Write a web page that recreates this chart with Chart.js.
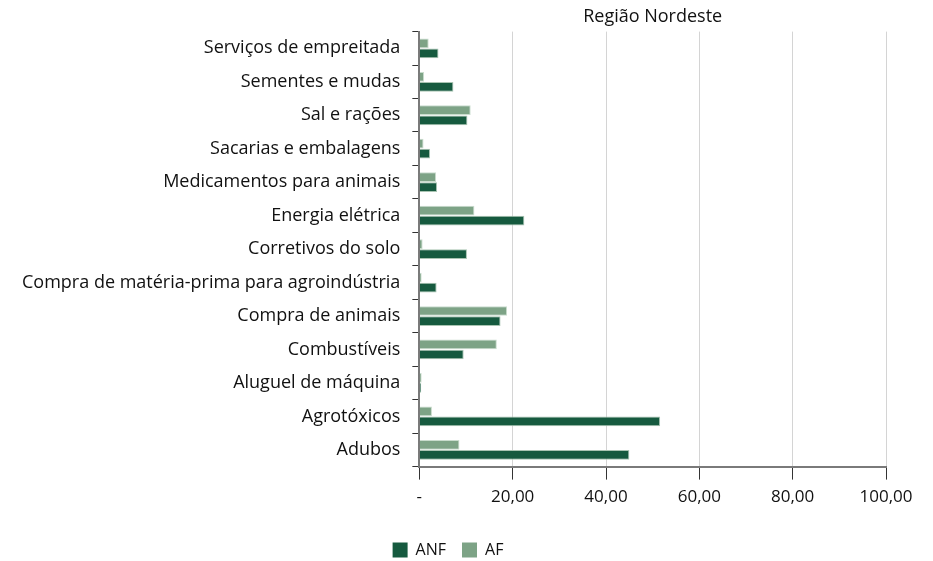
<!DOCTYPE html>
<html>
<head>
<meta charset="utf-8">
<script src="https://cdn.jsdelivr.net/npm/chart.js@4"></script>
<style>
  html, body { margin: 0; padding: 0; background: #fff; }
  #box { width: 933px; height: 561px; }
</style>
</head>
<body>
<div id="box"><canvas id="grafico"></canvas></div>
<script>
// categorias (de cima para baixo)
const categorias = [
  'Serviços de empreitada',
  'Sementes e mudas',
  'Sal e rações',
  'Sacarias e embalagens',
  'Medicamentos para animais',
  'Energia elétrica',
  'Corretivos do solo',
  'Compra de matéria-prima para agroindústria',
  'Compra de animais',
  'Combustíveis',
  'Aluguel de máquina',
  'Agrotóxicos',
  'Adubos'
];

// valores (%)
const valoresANF = [4.1, 7.3, 10.3, 2.3, 3.8, 22.5, 10.2, 3.7, 17.4, 9.5, 0.4, 51.6, 45.0];
const valoresAF  = [2.0, 1.0, 11.0, 0.9, 3.6, 11.8, 0.7, 0.5, 18.8, 16.6, 0.5, 2.7, 8.6];

const ticksX = ['-', '20,00', '40,00', '60,00', '80,00', '100,00'];

const corANF = '#165a3f';
const corAF = '#7da386';

const fonte = "'Open Sans', 'Noto Sans', sans-serif";

const ctx = document.getElementById('grafico').getContext('2d');
new Chart(ctx, {
  type: 'bar',
  data: {
    labels: categorias,
    datasets: [
      {
        label: 'AF',
        data: valoresAF,
        backgroundColor: corAF,
        borderColor: '#c9dccd',
        borderWidth: 1,
        categoryPercentage: 0.6,
        barPercentage: 0.97
      },
      {
        label: 'ANF',
        data: valoresANF,
        backgroundColor: corANF,
        borderColor: '#a9c4b2',
        borderWidth: 1,
        categoryPercentage: 0.6,
        barPercentage: 0.97
      }
    ]
  },
  options: {
    indexAxis: 'y',
    responsive: true,
    maintainAspectRatio: false,
    animation: false,
    layout: { padding: { left: 10, right: 47, top: 4, bottom: -7 } },
    plugins: {
      title: {
        display: true,
        text: 'Região Nordeste',
        fullSize: false,
        color: '#111',
        font: { family: fonte, size: 18, weight: 'normal' },
        padding: { top: 2, bottom: 4 }
      },
      legend: {
        position: 'bottom',
        labels: {
          color: '#111',
          font: { family: fonte, size: 16 },
          boxWidth: 15,
          boxHeight: 15,
          padding: 16,
          sort: (a, b) => b.datasetIndex - a.datasetIndex,
          generateLabels: (chart) => chart.data.datasets.map((ds, i) => ({
            text: ds.label,
            fillStyle: ds.backgroundColor,
            strokeStyle: ds.backgroundColor,
            lineWidth: 0,
            fontColor: '#111',
            datasetIndex: i,
            hidden: false
          }))
        }
      },
      tooltip: { enabled: false }
    },
    scales: {
      x: {
        min: 0,
        max: 100,
        afterFit: (scale) => { scale.height += 12; },
        ticks: {
          stepSize: 20,
          color: '#111',
          font: { family: fonte, size: 17 },
          padding: 7,
          callback: (v, i) => ticksX[i]
        },
        grid: {
          color: '#d4d4d4',
          lineWidth: 1,
          tickLength: 13,
          tickColor: '#333',
          drawTicks: true
        },
        border: { color: '#7a7a7a', width: 2 }
      },
      y: {
        ticks: {
          color: '#111',
          font: { family: fonte, size: 18 },
          padding: 12
        },
        grid: {
          drawOnChartArea: false,
          offset: true,
          tickLength: 7,
          tickColor: '#333'
        },
        border: { color: '#7a7a7a', width: 2 }
      }
    }
  }
});
</script>
</body>
</html>
